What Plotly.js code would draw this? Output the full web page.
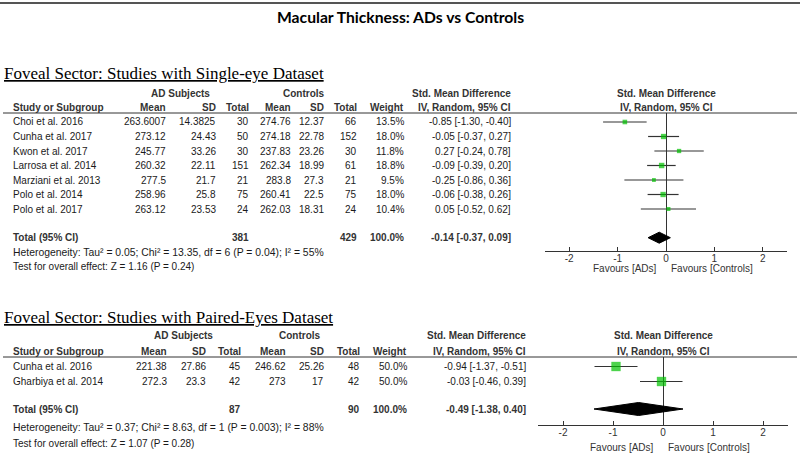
<!DOCTYPE html>
<html>
<head>
<meta charset="utf-8">
<script src="https://cdn.plot.ly/plotly-3.0.1.min.js"></script>
<style>html,body{margin:0;padding:0;background:#fff;}#chart{width:800px;height:454px;}</style>
</head>
<body>
<div id="chart"></div>
<script>
// ---------- DATA ----------
const chartTitle = 'Macular Thickness: ADs vs Controls';

const p1Title = 'Foveal Sector: Studies with Single-eye Dataset';
const p1Studies = ['Choi et al. 2016','Cunha et al. 2017','Kwon et al. 2017','Larrosa et al. 2014','Marziani et al. 2013','Polo et al. 2014','Polo et al. 2017'];
const p1AdMean = ['263.6007','273.12','245.77','260.32','277.5','258.96','263.12'];
const p1AdSD = ['14.3825','24.43','33.26','22.11','21.7','25.8','23.53'];
const p1AdN = [30,50,30,151,21,75,24];
const p1CtMean = ['274.76','274.18','237.83','262.34','283.8','260.41','262.03'];
const p1CtSD = ['12.37','22.78','23.26','18.99','27.3','22.5','18.31'];
const p1CtN = [66,152,30,61,21,75,24];
const p1Weight = [13.5,18.0,11.8,18.8,9.5,18.0,10.4];
const p1Smd = [-0.85,-0.05,0.27,-0.09,-0.25,-0.06,0.05];
const p1Lo = [-1.30,-0.37,-0.24,-0.39,-0.86,-0.38,-0.52];
const p1Hi = [-0.40,0.27,0.78,0.20,0.36,0.26,0.62];
const p1Total = {adN:381, ctN:429, weight:100.0, smd:-0.14, lo:-0.37, hi:0.09};
const p1Het = 'Heterogeneity: Tau² = 0.05; Chi² = 13.35, df = 6 (P = 0.04); I² = 55%';
const p1Test = 'Test for overall effect: Z = 1.16 (P = 0.24)';

const p2Title = 'Foveal Sector: Studies with Paired-Eyes Dataset';
const p2Studies = ['Cunha et al. 2016','Gharbiya et al. 2014'];
const p2AdMean = ['221.38','272.3'];
const p2AdSD = ['27.86','23.3'];
const p2AdN = [45,42];
const p2CtMean = ['246.62','273'];
const p2CtSD = ['25.26','17'];
const p2CtN = [48,42];
const p2Weight = [50.0,50.0];
const p2Smd = [-0.94,-0.03];
const p2Lo = [-1.37,-0.46];
const p2Hi = [-0.51,0.39];
const p2Total = {adN:87, ctN:90, weight:100.0, smd:-0.49, lo:-1.38, hi:0.40};
const p2Het = 'Heterogeneity: Tau² = 0.37; Chi² = 8.63, df = 1 (P = 0.003); I² = 88%';
const p2Test = 'Test for overall effect: Z = 1.07 (P = 0.28)';

const tickVals = [-2,-1,0,1,2];
const tickText = ['-2','-1','0','1','2'];
const favLeft = 'Favours [ADs]';
const favRight = 'Favours [Controls]';

// ---------- LAYOUT HELPERS ----------
const W = 800, H = 454;
const SANS = 'Liberation Sans, Arial, sans-serif';
const SERIF = 'Liberation Serif, Times New Roman, serif';
const px = x => x / W;
const py = y => 1 - y / H;
const fmt2 = v => v.toFixed(2);
const ci = (e, l, h) => fmt2(e) + ' [' + fmt2(l) + ', ' + fmt2(h) + ']';

const annotations = [];
const shapes = [];
const traces = [];

function txt(x, y, text, o) {
  o = o || {};
  annotations.push({
    xref: 'paper', yref: 'paper', x: px(x), y: py(y), text: text,
    showarrow: false, xanchor: o.anchor || 'right', yanchor: 'middle',
    borderpad: 0,
    font: Object.assign({family: o.family || SANS, size: o.size || 10, color: o.color || '#1a1a1a',
      weight: o.bold ? 'bold' : 'normal'}, o.extra || {})
  });
}

function hline(x0, x1, y, color, width) {
  shapes.push({type: 'line', xref: 'paper', yref: 'paper', x0: px(x0), x1: px(x1), y0: py(y), y1: py(y),
    line: {color: color, width: width}});
}

const HEAD = '#333333';

function panel(d, g, axIdx) {
  const xa = axIdx === 1 ? 'x' : 'x2';
  const ya = axIdx === 1 ? 'y' : 'y2';
  // section title
  txt(3, g.titleY, d.title, {anchor: 'left', family: SERIF, size: 17, color: '#000',
    extra: {lineposition: 'under'}});
  // group headers
  txt(g.adCenter, g.groupY, 'AD Subjects', {anchor: 'center', bold: true, color: HEAD});
  txt(g.ctCenter, g.groupY, 'Controls', {anchor: 'center', bold: true, color: HEAD});
  txt(g.c.smd, g.groupY, 'Std. Mean Difference', {bold: true, color: HEAD});
  txt(g.c.smd, g.headY, 'IV, Random, 95% CI', {bold: true, color: HEAD});
  txt(12, g.headY, 'Study or Subgroup', {anchor: 'left', bold: true, color: HEAD});
  txt(g.c.mean, g.headY, 'Mean', {bold: true, color: HEAD});
  txt(g.c.sd, g.headY, 'SD', {bold: true, color: HEAD});
  txt(g.c.tot, g.headY, 'Total', {bold: true, color: HEAD});
  txt(g.c.cmean, g.headY, 'Mean', {bold: true, color: HEAD});
  txt(g.c.csd, g.headY, 'SD', {bold: true, color: HEAD});
  txt(g.c.ctot, g.headY, 'Total', {bold: true, color: HEAD});
  txt(g.c.w, g.headY, 'Weight', {bold: true, color: HEAD});
  // plot header
  txt(g.plotMid, g.groupY, 'Std. Mean Difference', {anchor: 'center', bold: true, color: HEAD});
  txt(g.plotMid, g.headY, 'IV, Random, 95% CI', {anchor: 'center', bold: true, color: HEAD});
  hline(3, 797, g.lineY, '#333', 1);

  const rowY = d.studies.map((s, i) => g.rowY0 + i * g.rowStep);
  d.studies.forEach((s, i) => {
    const y = rowY[i];
    txt(12, y, s, {anchor: 'left'});
    txt(g.c.mean, y, d.adMean[i]);
    txt(g.c.sd, y, d.adSD[i]);
    txt(g.c.tot, y, String(d.adN[i]));
    txt(g.c.cmean, y, d.ctMean[i]);
    txt(g.c.csd, y, d.ctSD[i]);
    txt(g.c.ctot, y, String(d.ctN[i]));
    txt(g.c.w, y, d.weight[i].toFixed(1) + '%');
    txt(g.c.smd, y, ci(d.smd[i], d.lo[i], d.hi[i]));
  });
  // totals
  const t = d.total;
  txt(12, g.totalY, 'Total (95% CI)', {anchor: 'left', bold: true, color: HEAD});
  txt(g.c.tot, g.totalY, String(t.adN), {bold: true, color: HEAD});
  txt(g.c.ctot, g.totalY, String(t.ctN), {bold: true, color: HEAD});
  txt(g.c.w, g.totalY, t.weight.toFixed(1) + '%', {bold: true, color: HEAD});
  txt(g.c.smd, g.totalY, ci(t.smd, t.lo, t.hi), {bold: true, color: HEAD});
  txt(12, g.hetY, d.het, {anchor: 'left', size: 10.4});
  txt(12, g.testY, d.test, {anchor: 'left'});
  // favours
  txt(g.zeroX - 8, g.favY, favLeft, {color: HEAD});
  txt(g.zeroX + 4, g.favY, favRight, {anchor: 'left', color: HEAD});

  // CI lines
  const lx = [], ly = [];
  d.studies.forEach((s, i) => { lx.push(d.lo[i], d.hi[i], null); ly.push(rowY[i], rowY[i], null); });
  traces.push({type: 'scatter', mode: 'lines', x: lx, y: ly, xaxis: xa, yaxis: ya,
    line: {color: '#333', width: 1.2}, hoverinfo: 'skip', showlegend: false, cliponaxis: false});
  // squares
  traces.push({type: 'scatter', mode: 'markers', x: d.smd, y: rowY, xaxis: xa, yaxis: ya,
    marker: {symbol: 'square', color: '#00c000', size: d.weight.map(w => g.mScale * Math.sqrt(w)),
      line: {width: 0}}, showlegend: false, cliponaxis: false});
  // diamond
  const h = g.diaHalf;
  traces.push({type: 'scatter', mode: 'lines', x: [t.lo, t.smd, t.hi, t.smd, t.lo],
    y: [g.totalY, g.totalY - h, g.totalY, g.totalY + h, g.totalY], xaxis: xa, yaxis: ya,
    fill: 'toself', fillcolor: '#000', line: {color: '#000', width: 1}, showlegend: false});
  // lower half of tick marks (upper half drawn by the axis itself)
  tickVals.forEach(v => shapes.push({type: 'line', xref: xa, yref: ya, x0: v, x1: v,
    y0: g.axisY, y1: g.axisY + 4, line: {color: '#333', width: 1}}));
}

const g1 = {titleY: 74, groupY: 93, headY: 108, lineY: 113, rowY0: 122, rowStep: 14.5, totalY: 237.7,
  hetY: 252, testY: 266, axisY: 251, favY: 268.5, adCenter: 180, ctCenter: 304, plotMid: 666, zeroX: 666,
  plotX0: 545, plotX1: 787, mScale: 1.25, diaHalf: 5.5,
  c: {mean: 167, sd: 217, tot: 250, cmean: 292, csd: 325, ctot: 358, w: 405, smd: 512}};
const g2 = {titleY: 317, groupY: 335, headY: 351, lineY: 357, rowY0: 366.5, rowStep: 15, totalY: 409,
  hetY: 427, testY: 443, axisY: 425, favY: 447, adCenter: 183, ctCenter: 300, plotMid: 663, zeroX: 663,
  plotX0: 538, plotX1: 788, mScale: 1.32, diaHalf: 6.5,
  c: {mean: 168, sd: 207, tot: 242, cmean: 287, csd: 325, ctot: 361, w: 408, smd: 527}};

panel({title: p1Title, studies: p1Studies, adMean: p1AdMean, adSD: p1AdSD, adN: p1AdN, ctMean: p1CtMean,
  ctSD: p1CtSD, ctN: p1CtN, weight: p1Weight, smd: p1Smd, lo: p1Lo, hi: p1Hi, total: p1Total,
  het: p1Het, test: p1Test}, g1, 1);
panel({title: p2Title, studies: p2Studies, adMean: p2AdMean, adSD: p2AdSD, adN: p2AdN, ctMean: p2CtMean,
  ctSD: p2CtSD, ctN: p2CtN, weight: p2Weight, smd: p2Smd, lo: p2Lo, hi: p2Hi, total: p2Total,
  het: p2Het, test: p2Test}, g2, 2);

// main title and top rule
annotations.push({xref: 'paper', yref: 'paper', x: 0.5, y: py(17), text: chartTitle, showarrow: false,
  xanchor: 'center', yanchor: 'middle', font: {family: 'Lato, Open Sans, sans-serif', size: 15.7, weight: 'bold', color: '#000'}});
hline(0, 800, 3, '#555', 2);

function xaxisDef(g, anchor) {
  return {domain: [px(g.plotX0), px(g.plotX1)], range: [-2.5, 2.5], anchor: anchor,
    showline: true, linecolor: '#333', linewidth: 1, ticks: 'inside', ticklen: 4, tickcolor: '#333', tickwidth: 1,
    tickvals: tickVals, ticktext: tickText, ticklabelstandoff: -2,
    tickfont: {family: SANS, size: 10, color: '#333'}, showgrid: false,
    zeroline: true, zerolinecolor: '#333', zerolinewidth: 1, fixedrange: true};
}
function yaxisDef(g, anchor) {
  return {domain: [py(g.axisY), py(g.lineY)], range: [g.axisY, g.lineY], anchor: anchor,
    visible: false, showgrid: false, zeroline: false, fixedrange: true};
}

const layout = {
  width: W, height: H, margin: {l: 0, r: 0, t: 0, b: 0},
  paper_bgcolor: '#fff', plot_bgcolor: 'rgba(0,0,0,0)', showlegend: false,
  xaxis: xaxisDef(g1, 'y'), yaxis: yaxisDef(g1, 'x'),
  xaxis2: xaxisDef(g2, 'y2'), yaxis2: yaxisDef(g2, 'x2'),
  annotations: annotations, shapes: shapes
};

Plotly.newPlot('chart', traces, layout, {displayModeBar: false, staticPlot: true});
</script>
</body>
</html>
